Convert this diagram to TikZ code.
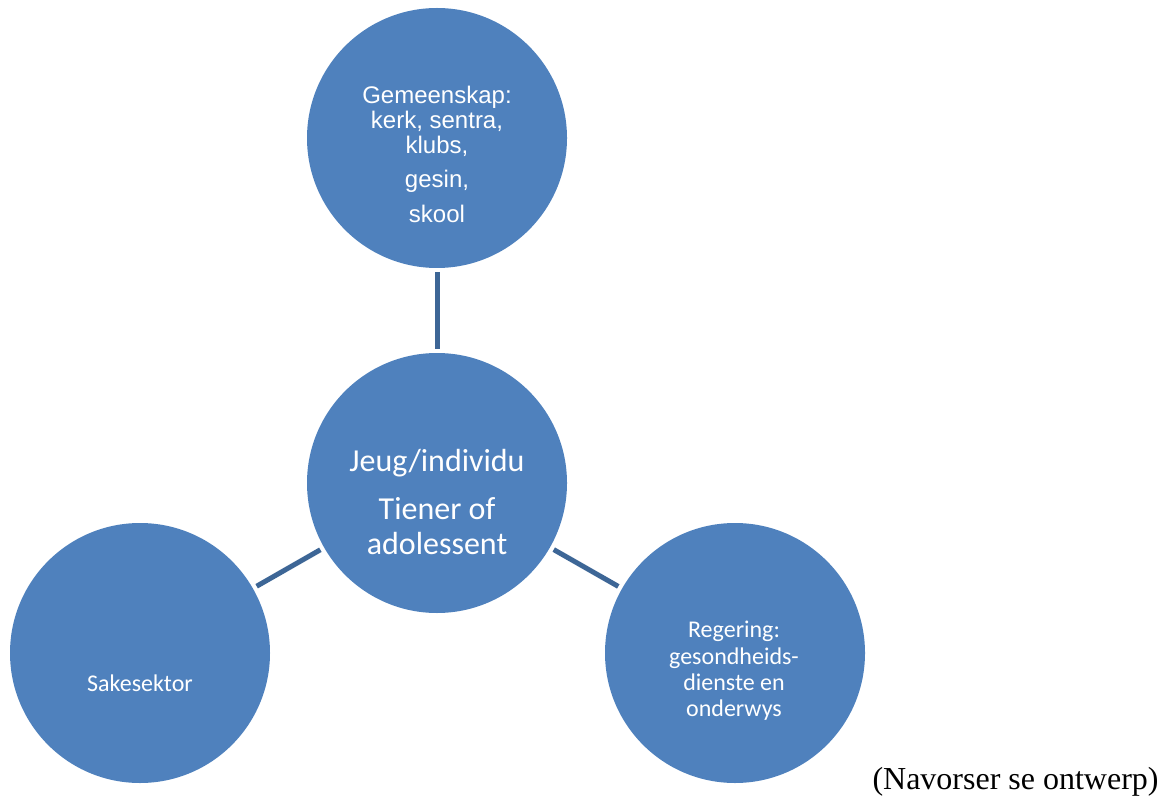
\documentclass[tikz,border=0pt]{standalone}
\usepackage{fontspec}
\setmainfont{Liberation Serif}
\newfontfamily\arialfont{Liberation Sans}
\newfontfamily\calibrifont{Carlito}
\usepackage{tikz}
\usetikzlibrary{positioning,shapes,arrows}
\definecolor{sphereblue}{HTML}{4F81BD}
\definecolor{linkblue}{HTML}{3D6696}

\begin{document}
\begin{tikzpicture}[x=0.5pt, y=-0.5pt,
    sphere/.style={circle, fill=sphereblue, draw=none, minimum size=130pt, inner sep=0pt},
    spheretext/.style={text=white, align=center, inner sep=0pt},
    link/.style={draw=linkblue, line width=2.5pt, shorten >=2pt, shorten <=2pt}]
    \useasboundingbox (0,0) rectangle (1165,796);

    \node[sphere] (gemeenskap) at (437,138) {};
    \node[sphere] (jeug) at (437,483) {};
    \node[sphere] (sake) at (140,653) {};
    \node[sphere] (regering) at (735,653) {};

    \node[spheretext, font=\arialfont\fontsize{12}{12.5}\selectfont] (gemeenskaptxt) at (437,154)
        {Gemeenskap:\\kerk, sentra,\\klubs,\\[4.75pt]gesin,\\[4.75pt]skool};
    \node[spheretext, font=\calibrifont\fontsize{16}{17.5}\selectfont] (jeugtxt) at (437,502)
        {Jeug/individu\\[6.5pt]Tiener of\\adolessent};
    \node[spheretext, font=\calibrifont\fontsize{12}{13.2}\selectfont] (saketxt) at (140,683)
        {Sakesektor};
    \node[spheretext, font=\calibrifont\fontsize{12}{13.2}\selectfont] (regeringtxt) at (734,671)
        {Regering:\\gesondheids-\\dienste en\\onderwys};

    \draw[link] (gemeenskap) -- (jeug);
    \draw[link] (jeug) -- (sake);
    \draw[link] (jeug) -- (regering);

    \node[anchor=base east, inner sep=0pt, font=\fontsize{16}{18}\selectfont] (bron) at (1159,789)
        {(Navorser se ontwerp)};
\end{tikzpicture}
\end{document}
